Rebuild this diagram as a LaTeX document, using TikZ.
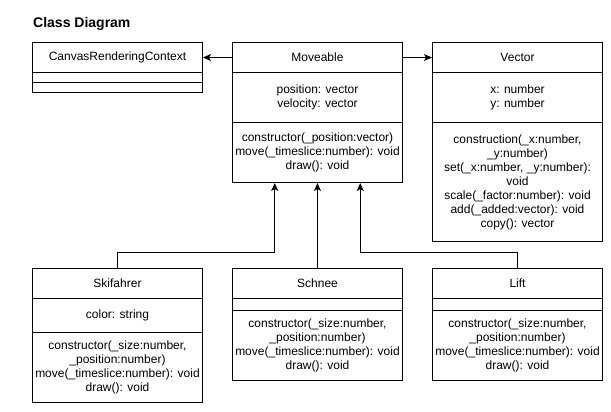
\documentclass[tikz,border=0pt]{standalone}
\usepackage{fontspec}
\setmainfont{Liberation Sans}
\usetikzlibrary{arrows.meta,calc}
\begin{document}
\begin{tikzpicture}[x=1pt,y=-1pt,
  comp/.style={draw=black, line width=1pt, minimum width=170pt, inner sep=0pt,
    anchor=north west, align=center, font=\fontsize{12}{14}\selectfont},
  arr/.style={draw=black, line width=1pt, -{Stealth[length=8pt,width=7pt,inset=2pt]}}]
\useasboundingbox (0,0) rectangle (611,412);
\fill[white] (0,0) rectangle (611,412);
\node[anchor=base west, font=\bfseries\fontsize{14}{16}\selectfont, inner sep=0pt] (title) at (33,28) {Class Diagram};
% CanvasRenderingContext
\node[comp, minimum height=30pt] (canh) at (32,42) {CanvasRenderingContext};
\node[comp, minimum height=10pt] (cana) at (32,72) {};
\node[comp, minimum height=10pt] (canm) at (32,82) {};
% Moveable
\node[comp, minimum height=30pt] (movh) at (232,42) {Moveable};
\node[comp, minimum height=50pt] (mova) at (232,72) {position: vector\\velocity: vector};
\node[comp, minimum height=60pt] (movm) at (232,122) {constructor(\_position:vector)\\move(\_timeslice:number): void\\draw(): void};
% Vector
\node[comp, minimum height=30pt] (vech) at (432,42) {Vector};
\node[comp, minimum height=50pt] (veca) at (432,72) {x: number\\y: number};
\node[comp, minimum height=119pt] (vecm) at (432,122) {construction(\_x:number,\\\_y:number)\\set(\_x:number, \_y:number):\\void\\scale(\_factor:number): void\\add(\_added:vector): void\\copy(): vector};
% Skifahrer
\node[comp, minimum height=30pt] (skh) at (32,268) {Skifahrer};
\node[comp, minimum height=34pt] (ska) at (32,298) {color: string};
\node[comp, minimum height=70pt] (skm) at (32,332) {constructor(\_size:number,\\\_position:number)\\move(\_timeslice:number): void\\draw(): void};
% Schnee
\node[comp, minimum height=30pt] (sch) at (232,268) {Schnee};
\node[comp, minimum height=12pt] (sca) at (232,298) {};
\node[comp, minimum height=70pt] (scm) at (232,310) {constructor(\_size:number,\\\_position:number)\\move(\_timeslice:number): void\\draw(): void};
% Lift
\node[comp, minimum height=30pt] (lih) at (432,268) {Lift};
\node[comp, minimum height=12pt] (lia) at (432,298) {};
\node[comp, minimum height=70pt] (lim) at (432,310) {constructor(\_size:number,\\\_position:number)\\move(\_timeslice:number): void\\draw(): void};
% connectors
\draw[arr] (movh.west) -- (canh.east);
\draw[arr] (movh.east) -- (vech.west);
\draw[arr] (skh.north) -- ++(0,-16) -| ($(movm.south west)!0.25!(movm.south east)$);
\draw[arr] (sch.north) -- (movm.south);
\draw[arr] (lih.north) -- ++(0,-16) -| ($(movm.south west)!0.75!(movm.south east)$);
\end{tikzpicture}
\end{document}
